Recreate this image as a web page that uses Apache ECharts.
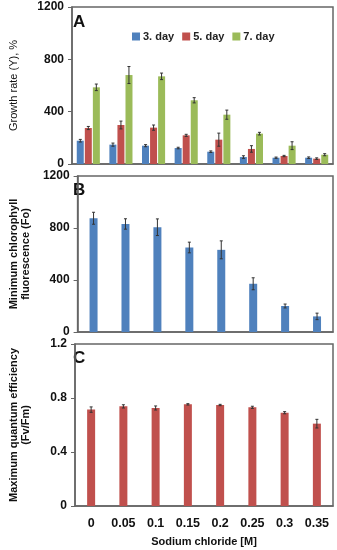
<!DOCTYPE html>
<html><head><meta charset="utf-8">
<script src="https://cdn.jsdelivr.net/npm/echarts@6/dist/echarts.min.js"></script>
<style>html,body{margin:0;padding:0;background:#fff;}#c{width:337px;height:550px;}</style>
</head><body><div id="c"></div>
<script>
var categories = ['0','0.05','0.1','0.15','0.2','0.25','0.3','0.35'];
var day3 = [178,148,140,122,94,53,48,48];
var day3Err = [10,12,8,6,6,10,5,6];
var day5 = [275,298,278,219,186,115,61,41];
var day5Err = [12,30,20,8,50,25,5,6];
var day7 = [586,680,670,487,377,232,140,71];
var day7Err = [25,65,25,20,35,10,30,8];
var foVals = [875,831,806,650,632,371,200,120];
var foErr = [46,40,64,41,69,46,15,25];
var fvVals = [0.714,0.738,0.726,0.753,0.748,0.731,0.691,0.610];
var fvErr = [0.02,0.012,0.015,0.005,0.005,0.008,0.008,0.032];

var FONT = '"Liberation Sans", Arial, sans-serif';
var BLUE = '#4F81BD', RED = '#C0504D', GREEN = '#9BBB59';

function errSeries(vals, errs, xi, yi, offset) {
  return {
    type: 'custom', xAxisIndex: xi, yAxisIndex: yi, silent: true, z: 10,
    data: vals.map(function (v, i) { return [i, v - errs[i], v + errs[i]]; }),
    renderItem: function (params, api) {
      var lo = api.coord([api.value(0), api.value(1)]);
      var hi = api.coord([api.value(0), api.value(2)]);
      var x = lo[0] + offset;
      var s = { stroke: '#333', lineWidth: 1 };
      return { type: 'group', children: [
        { type: 'line', shape: { x1: x, y1: lo[1], x2: x, y2: hi[1] }, style: s },
        { type: 'line', shape: { x1: x - 1.5, y1: lo[1], x2: x + 1.5, y2: lo[1] }, style: s },
        { type: 'line', shape: { x1: x - 1.5, y1: hi[1], x2: x + 1.5, y2: hi[1] }, style: s }
      ]};
    }
  };
}

var gridBase = { left: 63, right: 4, show: true, borderColor: '#666', borderWidth: 1.5, backgroundColor: 'transparent' };
function yAx(gi, name, gap, max, interval, nameBold) {
  return {
    type: 'value', gridIndex: gi, min: 0, max: max, interval: interval,
    name: name, nameLocation: 'middle', nameRotate: 90, nameGap: gap,
    nameTextStyle: { fontFamily: FONT, fontSize: 11, fontWeight: nameBold ? 'bold' : 'normal', color: '#111', lineHeight: 12 },
    axisLine: { show: true, lineStyle: { color: '#666', width: 1.5 } },
    axisTick: { show: true, length: 4, lineStyle: { color: '#666' } },
    splitLine: { show: false },
    axisLabel: { fontFamily: FONT, fontSize: 12, fontWeight: 'bold', color: '#111', margin: 8,
      showMinLabel: true, showMaxLabel: true,
      formatter: function (v) { return String(Math.round(v * 10) / 10); } }
  };
}
function xAx(gi, showLabel) {
  var a = {
    type: 'category', gridIndex: gi, data: categories,
    axisLine: { show: true, lineStyle: { color: '#666', width: 1.5 } },
    axisTick: { show: false },
    axisLabel: { show: showLabel, fontFamily: FONT, fontSize: 12.5, fontWeight: 'bold', color: '#111', margin: 11 }
  };
  if (showLabel) {
    a.name = 'Sodium chloride [M]';
    a.nameLocation = 'middle';
    a.nameGap = 30;
    a.nameTextStyle = { fontFamily: FONT, fontSize: 11, fontWeight: 'bold', color: '#111' };
  }
  return a;
}

var chart = echarts.init(document.getElementById('c'));
chart.setOption({
  animation: false,
  textStyle: { fontFamily: FONT },
  grid: [
    Object.assign({ top: 7, height: 157 }, gridBase),
    Object.assign({ top: 176, height: 156 }, gridBase),
    Object.assign({ top: 344, height: 162 }, gridBase)
  ],
  legend: {
    left: 127, top: 26, itemWidth: 8, itemHeight: 8, itemGap: 8,
    icon: 'rect',
    data: ['3. day', '5. day', '7. day'],
    textStyle: { fontFamily: FONT, fontSize: 11, fontWeight: 'bold', color: '#222', padding: [0, 0, 0, -2] }
  },
  graphic: [
    { type: 'text', left: 73, top: 14, style: { text: 'A', font: 'bold 17px ' + FONT, fill: '#111' } },
    { type: 'text', left: 73, top: 182, style: { text: 'B', font: 'bold 17px ' + FONT, fill: '#111' } },
    { type: 'text', left: 73, top: 350, style: { text: 'C', font: 'bold 17px ' + FONT, fill: '#111' } }
  ],
  xAxis: [xAx(0, false), xAx(1, false), xAx(2, true)],
  yAxis: [
    yAx(0, 'Growth rate (Y), %', 52, 1200, 400, false),
    yAx(1, 'Minimum chlorophyll\nfluorescence (Fo)', 36, 1200, 400, true),
    yAx(2, 'Maximum quantum efficiency\n(Fv/Fm)', 43, 1.2, 0.4, true)
  ],
  series: [
    { name: '3. day', type: 'bar', xAxisIndex: 0, yAxisIndex: 0, data: day3, barWidth: 7, barGap: '15%', itemStyle: { color: BLUE } },
    { name: '5. day', type: 'bar', xAxisIndex: 0, yAxisIndex: 0, data: day5, barWidth: 7, barGap: '15%', itemStyle: { color: RED } },
    { name: '7. day', type: 'bar', xAxisIndex: 0, yAxisIndex: 0, data: day7, barWidth: 7, barGap: '15%', itemStyle: { color: GREEN } },
    errSeries(day3, day3Err, 0, 0, -8),
    errSeries(day5, day5Err, 0, 0, 0),
    errSeries(day7, day7Err, 0, 0, 8),
    { type: 'bar', xAxisIndex: 1, yAxisIndex: 1, data: foVals, barWidth: 8, itemStyle: { color: BLUE } },
    errSeries(foVals, foErr, 1, 1, 0),
    { type: 'bar', xAxisIndex: 2, yAxisIndex: 2, data: fvVals, barWidth: 8, itemStyle: { color: RED } },
    errSeries(fvVals, fvErr, 2, 2, 0)
  ]
});
</script></body></html>
